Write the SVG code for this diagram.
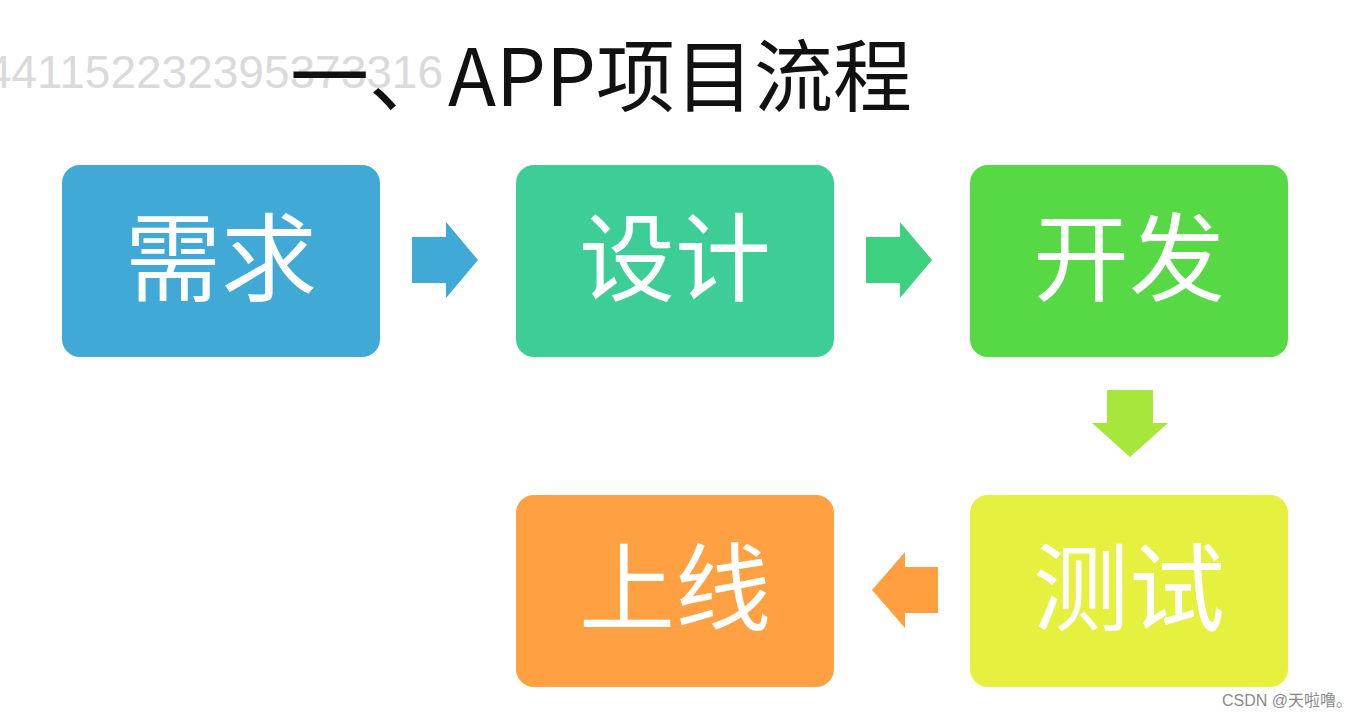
<svg xmlns="http://www.w3.org/2000/svg" width="1360" height="719" viewBox="0 0 1360 719">
<style>
.lbl{font-family:"Noto Sans CJK SC","Noto Sans",sans-serif;font-size:96px;fill:#fff;text-anchor:middle}
</style>
<rect width="1360" height="719" fill="#fff"/>
<text x="443" y="88" font-family="Liberation Sans,Arial,sans-serif" font-size="46" fill="#dadada" text-anchor="end">1441152232395373316</text>
<text x="290" y="106" font-family="Noto Sans CJK SC,sans-serif" font-size="79" fill="#111">一、APP项目流程</text>
<g id="n1"><rect x="62" y="165" width="318" height="192" rx="18" fill="#40A9D5"/><text class="lbl" x="221" y="293">需求</text></g>
<g id="n2"><rect x="516" y="165" width="318" height="192" rx="18" fill="#3DCE97"/><text class="lbl" x="675" y="293">设计</text></g>
<g id="n3"><rect x="970" y="165" width="318" height="192" rx="18" fill="#56D944"/><text class="lbl" x="1129" y="293">开发</text></g>
<g id="n4"><rect x="970" y="495" width="318" height="192" rx="18" fill="#E5F03F"/><text class="lbl" x="1129" y="623">测试</text></g>
<g id="n5"><rect x="516" y="495" width="318" height="192" rx="18" fill="#FFA043"/><text class="lbl" x="675" y="623">上线</text></g>
<g id="connectors">
<polygon points="412,237 446,237 446,222 478,260 446,298 446,283 412,283" fill="#40A9D5"/>
<polygon points="866,237 900,237 900,222 932,260 900,298 900,283 866,283" fill="#3DD07E"/>
<polygon points="1107,390 1153,390 1153,423 1168,423 1130,457 1092,423 1107,423" fill="#A7E63B"/>
<polygon points="938,567 905,567 905,552 872,590 905,628 905,613 938,613" fill="#FF9F40"/>
</g>
<text x="1222" y="706" font-family="Liberation Sans,Noto Sans CJK SC,sans-serif" font-size="16" fill="#8a8a8a">CSDN @天啦噜。</text>
</svg>
